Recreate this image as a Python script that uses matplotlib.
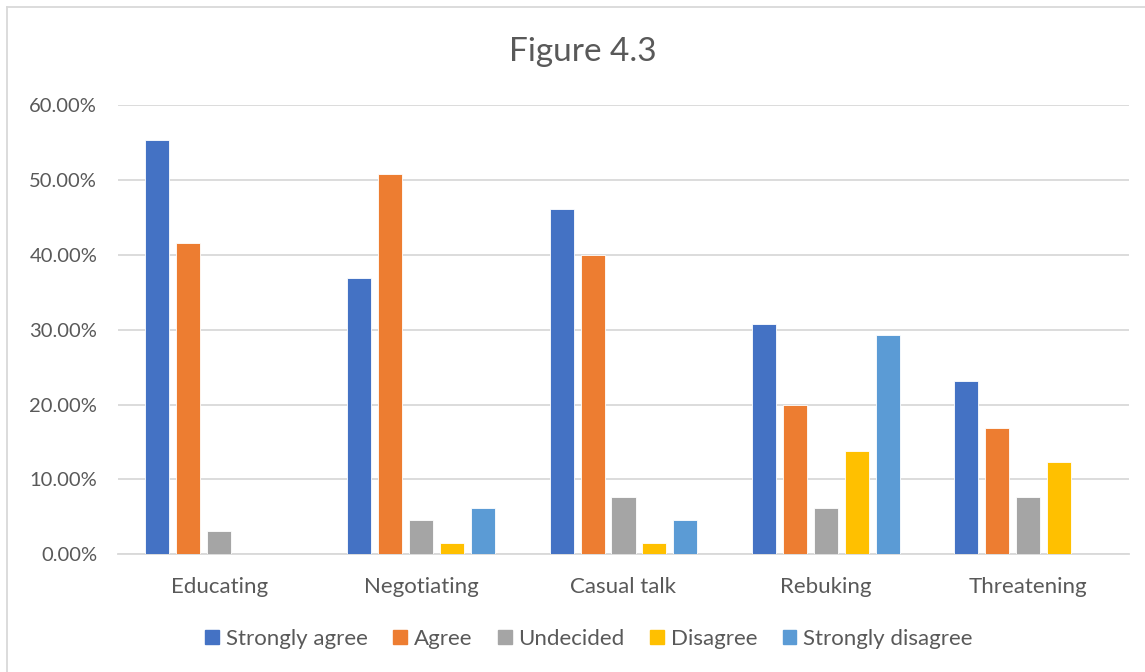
import matplotlib
matplotlib.use("Agg")
import matplotlib.pyplot as plt
from matplotlib.lines import Line2D
from matplotlib.ticker import FuncFormatter
import numpy as np

plt.rcParams['font.family'] = ['Lato', 'DejaVu Sans']

categories = ["Educating", "Negotiating", "Casual talk", "Rebuking", "Threatening"]
series_names = ["Strongly agree", "Agree", "Undecided", "Disagree", "Strongly disagree"]
strongly_agree = [55.38, 36.92, 46.15, 30.77, 23.08]
agree = [41.54, 50.77, 40.00, 20.00, 16.92]
undecided = [3.08, 4.62, 7.69, 6.15, 7.69]
disagree = [0.00, 1.54, 1.54, 13.85, 12.31]
strongly_disagree = [0.00, 6.15, 4.62, 29.23, 0.00]
colors = ["#4472C4", "#ED7D31", "#A5A5A5", "#FFC000", "#5B9BD5"]
y_ticks = [0, 10, 20, 30, 40, 50, 60]

series = [strongly_agree, agree, undecided, disagree, strongly_disagree]

W, H = 1145, 672
fig = plt.figure(figsize=(W / 100, H / 100), dpi=100)
fig.patch.set_facecolor("white")

# plot area in pixel coordinates
left, right, top, bottom = 118, 1129, 105, 554.3
ax = fig.add_axes([left / W, 1 - bottom / H, (right - left) / W, (bottom - top) / H])

x = np.arange(len(categories))
bar_w = 0.1187
pitch = 0.1533
for i, (name, vals, c) in enumerate(zip(series_names, series, colors)):
    ax.bar(x + (i - 2) * pitch, vals, width=bar_w, color=c,
           edgecolor="white", linewidth=0.6, label=name, zorder=3)

ax.set_xlim(-0.5, len(categories) - 0.5)
ax.set_ylim(0, 60)
ax.set_yticks(y_ticks)
ax.yaxis.set_major_formatter(FuncFormatter(lambda v, p: f"{v:.2f}%"))
ax.set_xticks(x)
ax.set_xticklabels(categories)
ax.grid(axis="y", color="#D9D9D9", linewidth=1.3, zorder=0)
for s in ["top", "right", "left"]:
    ax.spines[s].set_visible(False)
ax.spines["bottom"].set_color("#D9D9D9")
ax.spines["bottom"].set_linewidth(1.3)
ax.tick_params(axis="both", length=0, colors="#595959")
ax.tick_params(axis="y", pad=15, labelsize=14.5)
ax.tick_params(axis="x", pad=16, labelsize=16)

fig.text(583 / W, 1 - 52 / H, "Figure 4.3", ha="center", va="center",
         fontsize=24, color="#595959")

handles = [plt.Rectangle((0, 0), 1, 1, color=c) for c in colors]
fig.legend(handles, series_names, loc="center", bbox_to_anchor=(589 / W, 1 - 639 / H),
           ncol=5, frameon=False, fontsize=16, labelcolor="#595959",
           handlelength=0.62, handleheight=0.62, handletextpad=0.3, columnspacing=1.15)

# chart border
fig.add_artist(Line2D([6.5 / W, 6.5 / W], [0, 1 - 6.5 / H], color="#D9D9D9", linewidth=1.3))
fig.add_artist(Line2D([6.5 / W, 1], [1 - 6.5 / H, 1 - 6.5 / H], color="#D9D9D9", linewidth=1.3))

fig.savefig("out.png", dpi=100, facecolor="white")
